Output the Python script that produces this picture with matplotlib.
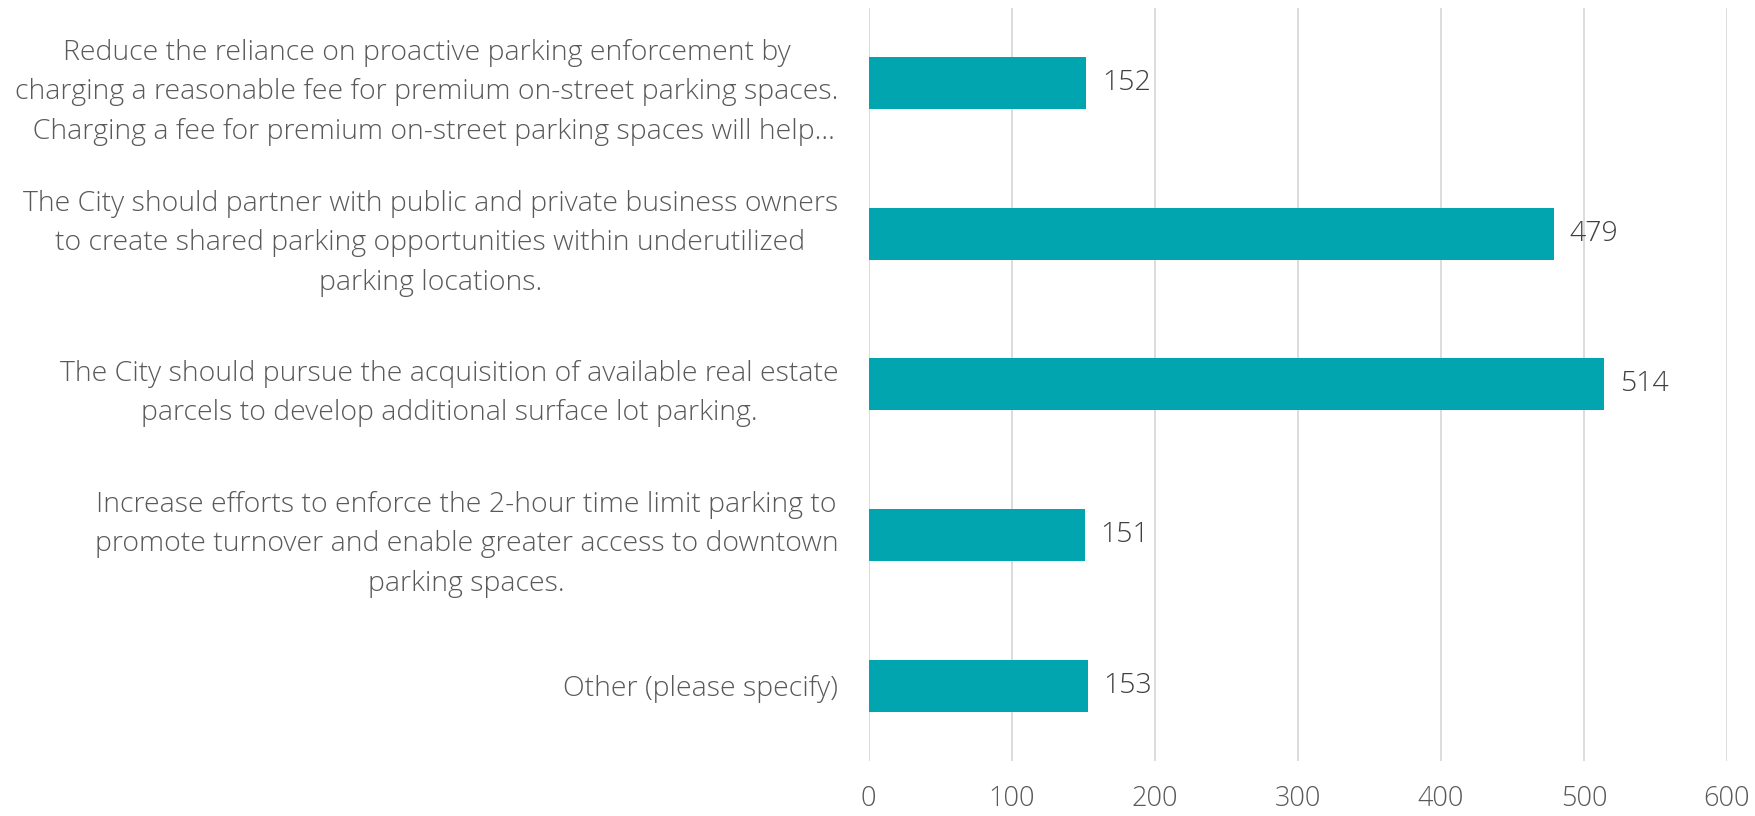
import matplotlib.pyplot as plt
import numpy as np

# data
categories = [
    "Reduce the reliance on proactive parking enforcement by\ncharging a reasonable fee for premium on-street parking spaces.\n  Charging a fee for premium on-street parking spaces will help...",
    "The City should partner with public and private business owners\nto create shared parking opportunities within underutilized\nparking locations.",
    "The City should pursue the acquisition of available real estate\nparcels to develop additional surface lot parking.",
    "Increase efforts to enforce the 2-hour time limit parking to\npromote turnover and enable greater access to downtown\nparking spaces.",
    "Other (please specify)",
]
values = [152, 479, 514, 151, 153]
xticks = [0, 100, 200, 300, 400, 500, 600]

plt.rcParams['font.family'] = ['Open Sans', 'DejaVu Sans']

fig = plt.figure(figsize=(17.55, 8.16), dpi=100)
ax = fig.add_axes([0.495, 0.0674, 0.489, 0.923])

y = np.arange(len(categories))
bars = ax.barh(y, values, height=0.345, color="#00A5B0", zorder=3)

# value labels
for b, v in zip(bars, values):
    ax.text(b.get_width() + 11, b.get_y() + b.get_height() / 2, str(v),
            va="center", ha="left", fontsize=20.5, color="#404040",
            fontweight="light")

ax.set_xlim(0, 600)
ax.set_ylim(len(categories) - 0.5, -0.5)
ax.set_xticks(xticks)
ax.set_yticks(y)
ax.set_yticklabels(categories, fontsize=20.5, color="#595959", fontweight="light")
for t in ax.get_yticklabels():
    t.set_multialignment("center")
    t.set_linespacing(1.55)
ax.tick_params(axis="y", length=0, pad=22)
ax.tick_params(axis="x", length=0, pad=17, labelsize=19.5, labelcolor="#595959")
for t in ax.get_xticklabels():
    t.set_fontweight("light")

ax.grid(axis="x", color="#D9D9D9", linewidth=1.3, zorder=0)
for s in ax.spines.values():
    s.set_visible(False)

fig.savefig("out.png", dpi=100)
